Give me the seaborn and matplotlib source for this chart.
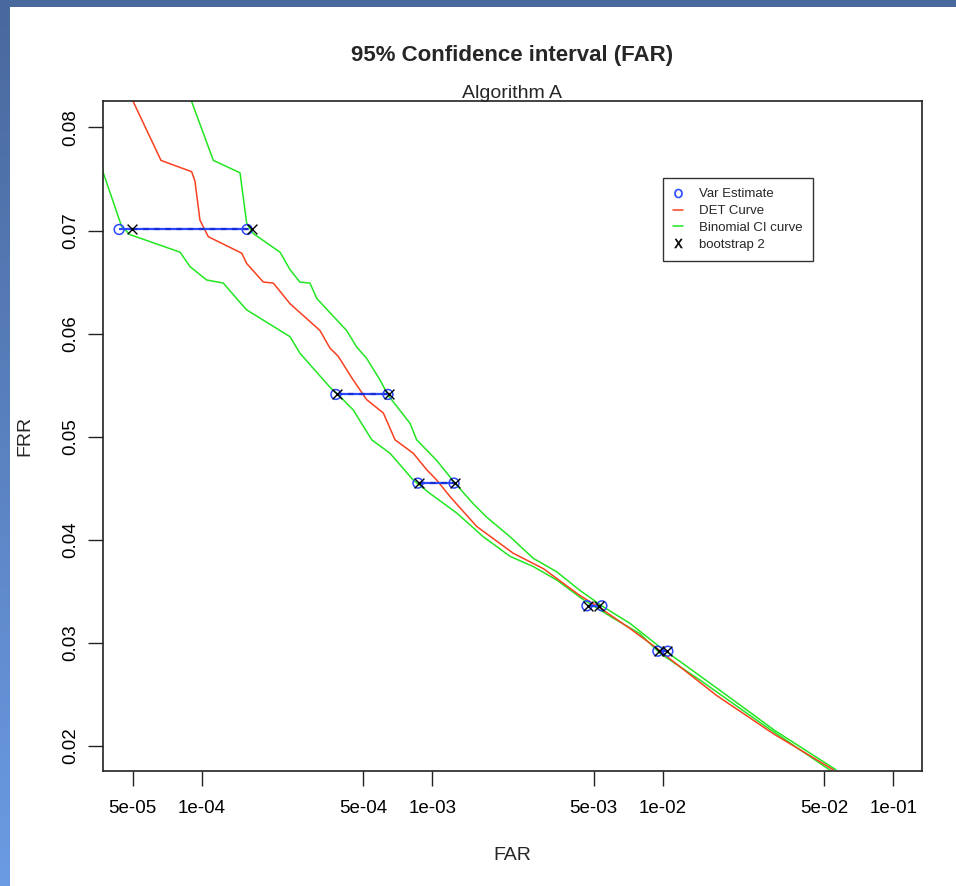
import numpy as np
import pandas as pd
import matplotlib
matplotlib.use("Agg")
import matplotlib.pyplot as plt
from matplotlib.lines import Line2D
from matplotlib.patches import Rectangle
from matplotlib.colors import LinearSegmentedColormap
import seaborn as sns

# ---------------- data ----------------
det_far = [4.68e-5, 5.03e-5, 6.64e-5, 9.02e-5, 9.32e-5, 9.80e-5, 1.065e-4, 1.487e-4, 1.563e-4,
           1.845e-4, 2.04e-4, 2.41e-4, 3.25e-4, 3.59e-4, 3.90e-4, 4.53e-4, 5.18e-4, 6.12e-4,
           6.88e-4, 8.25e-4, 9.44e-4, 1.043e-3, 1.191e-3, 1.555e-3, 2.24e-3, 3.03e-3, 4.36e-3,
           5.33e-3, 7.19e-3, 9.39e-3, 1.038e-2, 1.71e-2, 3.01e-2, 5.48e-2]
det_frr = [0.0840, 0.0825, 0.0768, 0.0757, 0.0748, 0.0710, 0.0694, 0.0678, 0.0668,
           0.0650, 0.0649, 0.0629, 0.0603, 0.0586, 0.0578, 0.0555, 0.0536, 0.0523,
           0.0497, 0.0484, 0.0468, 0.0458, 0.0442, 0.0413, 0.0387, 0.0372, 0.0346,
           0.0334, 0.0314, 0.0295, 0.0287, 0.0249, 0.0212, 0.0177]

upper_far = [8.50e-5, 9.02e-5, 1.12e-4, 1.462e-4, 1.563e-4, 1.67e-4, 2.18e-4, 2.41e-4, 2.66e-4,
             2.94e-4, 3.15e-4, 4.24e-4, 4.69e-4, 5.18e-4, 5.92e-4, 6.43e-4, 7.99e-4, 8.54e-4,
             1.043e-3, 1.252e-3, 1.503e-3, 1.718e-3, 2.17e-3, 2.74e-3, 3.46e-3, 4.36e-3,
             5.51e-3, 7.19e-3, 9.70e-3, 1.186e-2, 1.767e-2, 3.06e-2, 5.63e-2]
upper_frr = [0.0840, 0.0825, 0.0768, 0.0756, 0.0707, 0.0697, 0.0679, 0.0662, 0.0650,
             0.0649, 0.0634, 0.0603, 0.0587, 0.0576, 0.0555, 0.0540, 0.0513, 0.0497,
             0.0477, 0.0455, 0.0435, 0.0422, 0.0403, 0.0382, 0.0369, 0.0351,
             0.0335, 0.0319, 0.0296, 0.0282, 0.0254, 0.0215, 0.0177]

lower_far = [3.65e-5, 3.73e-5, 4.48e-5, 4.87e-5, 8.03e-5, 8.87e-5, 1.048e-4, 1.237e-4, 1.414e-4,
             1.563e-4, 2.41e-4, 2.66e-4, 3.59e-4, 3.97e-4, 4.53e-4, 5.45e-4, 6.54e-4, 8.25e-4,
             9.75e-4, 1.274e-3, 1.661e-3, 2.17e-3, 2.74e-3, 3.46e-3, 4.51e-3, 6.09e-3,
             7.94e-3, 9.70e-3, 1.447e-2, 2.63e-2, 5.36e-2]
lower_frr = [0.0765, 0.0756, 0.0704, 0.0696, 0.0679, 0.0665, 0.0652, 0.0649, 0.0634,
             0.0623, 0.0597, 0.0581, 0.0548, 0.0539, 0.0526, 0.0497, 0.0484, 0.0458,
             0.0445, 0.0426, 0.0403, 0.0384, 0.0374, 0.0361, 0.0342, 0.0324,
             0.0309, 0.0290, 0.0264, 0.0223, 0.0176]

ci_frr = [0.0701, 0.0541, 0.0455, 0.0336, 0.0292]
var_low = [4.37e-5, 3.81e-4, 8.65e-4, 4.68e-3, 9.5e-3]
var_high = [1.57e-4, 6.41e-4, 1.24e-3, 5.43e-3, 1.05e-2]
boot_low = [4.97e-5, 3.85e-4, 8.70e-4, 4.75e-3, 9.6e-3]
boot_high = [1.65e-4, 6.45e-4, 1.25e-3, 5.30e-3, 1.04e-2]

x_ticks = [5e-5, 1e-4, 5e-4, 1e-3, 5e-3, 1e-2, 5e-2, 1e-1]
x_tick_labels = ["5e-05", "1e-04", "5e-04", "1e-03", "5e-03", "1e-02", "5e-02", "1e-01"]
y_ticks = [0.02, 0.03, 0.04, 0.05, 0.06, 0.07, 0.08]
y_tick_labels = ["0.02", "0.03", "0.04", "0.05", "0.06", "0.07", "0.08"]

# ---------------- style ----------------
sns.set_style("white")
plt.rcParams["font.family"] = ["Liberation Sans", "DejaVu Sans"]

RED = "#f8401f"
GREEN = "#22e622"
BLUE = "#2a48ff"

W, H = 956, 886
fig = plt.figure(figsize=(W / 100, H / 100), dpi=100)
fig.patch.set_facecolor("white")

# slide-like frame (top band and left gradient band)
band = fig.add_axes([0, 0, 10 / W, 1])
grad = np.linspace(0, 1, 256).reshape(-1, 1)
cmap = LinearSegmentedColormap.from_list("band", ["#6b9be3", "#49689d"])
band.imshow(grad, aspect="auto", cmap=cmap, origin="lower", extent=[0, 1, 0, 1])
band.axis("off")
fig.add_artist(Rectangle((0, 1 - 7 / H), 1, 7 / H, transform=fig.transFigure,
                         facecolor="#49689d", edgecolor="none", zorder=5))

left, right, top, bottom = 103, 922, 101, 771
ax = fig.add_axes([left / W, 1 - bottom / H, (right - left) / W, (bottom - top) / H])
ax.set_xscale("log")

det_df = pd.DataFrame({"FAR": det_far, "FRR": det_frr})
up_df = pd.DataFrame({"FAR": upper_far, "FRR": upper_frr})
lo_df = pd.DataFrame({"FAR": lower_far, "FRR": lower_frr})

sns.lineplot(data=up_df, x="FAR", y="FRR", sort=False, estimator=None, color=GREEN, lw=1.1, ax=ax)
sns.lineplot(data=lo_df, x="FAR", y="FRR", sort=False, estimator=None, color=GREEN, lw=1.1, ax=ax)
sns.lineplot(data=det_df, x="FAR", y="FRR", sort=False, estimator=None, color=RED, lw=1.1, ax=ax)

# confidence interval bars
ax.hlines(ci_frr, var_low, var_high, color=BLUE, lw=1.6, zorder=4)
ax.hlines(ci_frr, boot_low, boot_high, color="#1a2fd0", lw=1.6, linestyles=(0, (2.5, 2.5)), zorder=5)

ci_df = pd.DataFrame({"FRR": ci_frr * 2, "FAR": var_low + var_high})
bs_df = pd.DataFrame({"FRR": ci_frr * 2, "FAR": boot_low + boot_high})
sns.scatterplot(data=ci_df, x="FAR", y="FRR", marker="o", s=50, facecolors="none",
                edgecolor=BLUE, linewidth=1.1, ax=ax, zorder=6)
sns.scatterplot(data=bs_df, x="FAR", y="FRR", marker="x", s=50, color="black",
                linewidth=1.0, ax=ax, zorder=7)

ax.set_xlim(3.72e-5, 0.133)
ax.set_ylim(0.01758, 0.08256)
ax.set_xticks(x_ticks)
ax.set_xticklabels(x_tick_labels)
ax.xaxis.set_minor_locator(matplotlib.ticker.NullLocator())
ax.set_yticks(y_ticks)
ax.set_yticklabels(y_tick_labels, rotation=90, va="center")
ax.tick_params(axis="both", which="major", direction="out", length=11, width=1, color="#222222",
               labelsize=13.5, labelcolor="black", bottom=True, left=True, top=False, right=False)
ax.tick_params(axis="x", pad=10)
ax.tick_params(axis="y", pad=6)
for sp in ax.spines.values():
    sp.set_color("#222222")
    sp.set_linewidth(1.2)
ax.set_xlabel("")
ax.set_ylabel("")

fig.text(25 / W, 1 - 436 / H, "FRR", rotation=90, ha="center", va="center", fontsize=14)
fig.text(512 / W, 1 - 855 / H, "FAR", ha="center", va="center", fontsize=14)
fig.text(512 / W, 1 - 55 / H, "95% Confidence interval (FAR)", ha="center", va="center",
         fontsize=16, fontweight="bold")
fig.text(512 / W, 1 - 93 / H, "Algorithm A", ha="center", va="center", fontsize=14)

handles = [
    Line2D([], [], ls="none", marker=r"$\mathsf{O}$", color=BLUE, markersize=6.5, markeredgewidth=0.4),
    Line2D([], [], ls="-", color=RED, lw=1.1),
    Line2D([], [], ls="-", color=GREEN, lw=1.1),
    Line2D([], [], ls="none", marker=r"$\mathsf{X}$", color="black", markersize=6.5, markeredgewidth=0.4),
]
labels = ["Var Estimate", "DET Curve", "Binomial CI curve", "bootstrap 2"]
leg = ax.legend(handles, labels, loc="upper left",
                bbox_to_anchor=((663 - left) / (right - left), (bottom - 178) / (bottom - top)),
                fontsize=9.5, frameon=True, fancybox=False, shadow=False, handlelength=0.8,
                handletextpad=1.2, labelspacing=0.36, borderpad=0.75, borderaxespad=0)
leg.get_frame().set_edgecolor("black")
leg.get_frame().set_linewidth(1.0)

fig.savefig("out.png", dpi=100)
